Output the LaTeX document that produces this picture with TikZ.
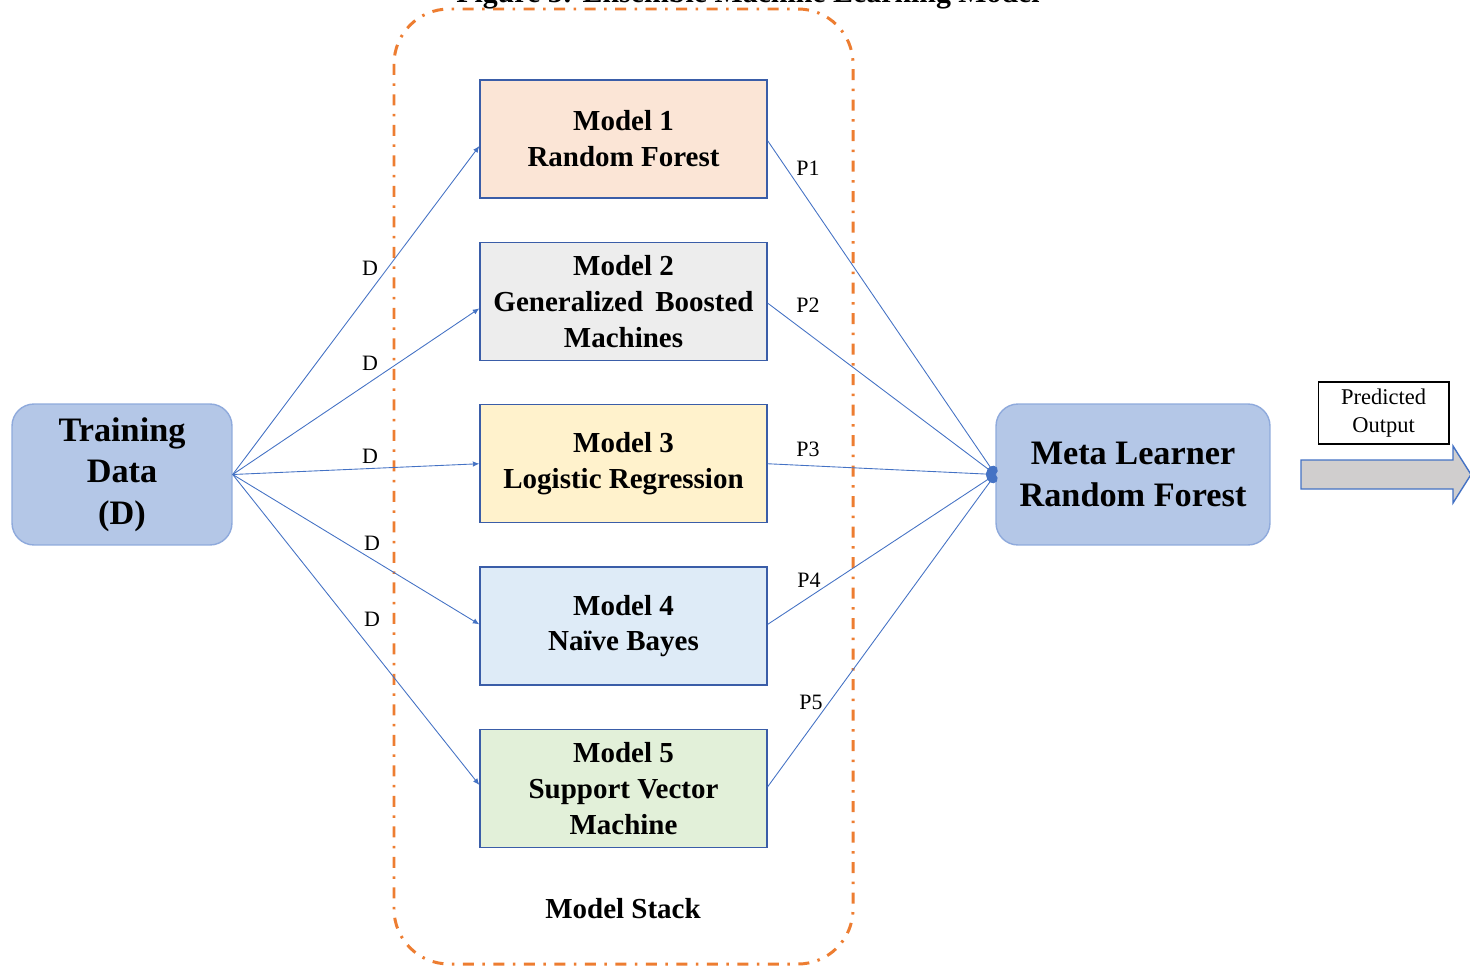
\documentclass[tikz,border=0pt]{standalone}
\usepackage{fontspec}
\setmainfont{Liberation Serif}
\usepackage{tikz}
\usetikzlibrary{arrows.meta,positioning}

\definecolor{linkblue}{HTML}{4472C4}
\definecolor{boxedge}{HTML}{3A5DA8}
\definecolor{datafill}{HTML}{B4C7E7}
\definecolor{dataedge}{HTML}{8FAADC}
\definecolor{stackorange}{HTML}{ED7D31}
\definecolor{rffill}{HTML}{FBE5D6}
\definecolor{gbmfill}{HTML}{EDEDED}
\definecolor{lrfill}{HTML}{FFF2CC}
\definecolor{nbfill}{HTML}{DEEBF7}
\definecolor{svmfill}{HTML}{E2F0D9}
\definecolor{arrowgray}{HTML}{D0CECE}

\begin{document}
\begin{tikzpicture}[
  x=0.02cm, y=-0.02cm,
  model/.style={
    draw=boxedge,
    line width=0.8pt,
    align=center,
    minimum width=5.74cm,
    minimum height=2.36cm,
    inner sep=0pt,
    font=\fontsize{16.5}{20.4}\selectfont\bfseries
  },
  learner/.style={
    draw=dataedge,
    fill=datafill,
    line width=0.8pt,
    rounded corners=0.44cm,
    align=center,
    minimum height=2.82cm,
    inner sep=0pt,
    font=\fontsize{19.5}{23.6}\selectfont\bfseries
  },
  feed/.style={
    -{Latex[length=1.3mm,width=1.1mm]},
    draw=linkblue,
    line width=0.5pt
  },
  vote/.style={
    -{Circle[length=1.9mm,width=2.1mm]},
    draw=linkblue,
    line width=0.5pt
  },
  lbl/.style={font=\fontsize{12.5}{14}\selectfont, inner sep=0pt},
  node distance=0.86cm
]
\useasboundingbox (0,0) rectangle (1470,966);

% Caption, cut by the page edge
\node[anchor=base, font=\fontsize{17}{20}\selectfont\bfseries] (caption) at (748,3)
  {Figure 3: Ensemble Machine Learning Model};

% Model stack frame
\draw[stackorange, line width=1.7pt, rounded corners=1.1cm,
  dash pattern=on 0.22cm off 0.17cm on 0.05cm off 0.17cm]
  (394,9) rectangle (853,964);
\node[font=\fontsize{16.5}{20}\selectfont\bfseries] (stack) at (623,909) {Model Stack};

% Input data
\node[learner, minimum width=4.4cm] (train) at (122,474.5) {
  \rule{0pt}{0.3cm}Training\\
  Data\\
  (D)
};

% Base models
\node[model, fill=rffill] (m1) at (623.5,139) {
  Model 1\\
  Random Forest
};
\node[model, fill=gbmfill, below=of m1] (m2) {
  Model 2\\
  Generalized\, Boosted\\
  Machines
};
\node[model, fill=lrfill, below=of m2] (m3) {
  Model 3\\
  Logistic Regression
};
\node[model, fill=nbfill, below=of m3] (m4) {
  Model 4\\
  Na\"ive Bayes
};
\node[model, fill=svmfill, below=of m4] (m5) {
  Model 5\\
  Support Vector\\
  Machine
};

% Stacking learner
\node[learner, minimum width=5.48cm] (meta) at (1133,474.5) {
  Meta Learner\\
  Random Forest
};

% Output
\node[draw=black, line width=0.6pt, align=center, minimum width=2.62cm,
  minimum height=1.24cm, inner sep=0pt,
  font=\fontsize{12.8}{15.9}\selectfont] (pred) at (1383.5,413) {
  \rule{0pt}{0.25cm}Predicted\\
  Output
};
\draw[draw=linkblue, fill=arrowgray, line width=0.8pt]
  (1301,460) -- (1453,460) -- (1453,446) -- (1471,474.5)
  -- (1453,503) -- (1453,489) -- (1301,489) -- cycle;

% Data feeds
\draw[feed] (train.east) -- ([yshift=-4]m1.west);
\draw[feed] (train.east) -- ([yshift=-4]m2.west);
\draw[feed] (train.east) -- (m3.west);
\draw[feed] (train.east) -- ([yshift=1]m4.west);
\draw[feed] (train.east) -- ([yshift=2]m5.west);

\node[lbl] (d1) at (370,268) {D};
\node[lbl] (d2) at (370,363) {D};
\node[lbl] (d3) at (370,456) {D};
\node[lbl] (d4) at (372,543) {D};
\node[lbl] (d5) at (372,619) {D};

% Predictions to the meta learner
\draw[vote] ([yshift=-1]m1.east) -- (meta.west);
\draw[vote] ([yshift=-1]m2.east) -- (meta.west);
\draw[vote] (m3.east) -- (meta.west);
\draw[vote] ([yshift=1]m4.east) -- (meta.west);
\draw[vote] ([yshift=1]m5.east) -- (meta.west);

\node[lbl] (p1) at (808,168) {P1};
\node[lbl] (p2) at (808,305) {P2};
\node[lbl] (p3) at (808,449) {P3};
\node[lbl] (p4) at (809,580) {P4};
\node[lbl] (p5) at (811,702) {P5};

\end{tikzpicture}
\end{document}
